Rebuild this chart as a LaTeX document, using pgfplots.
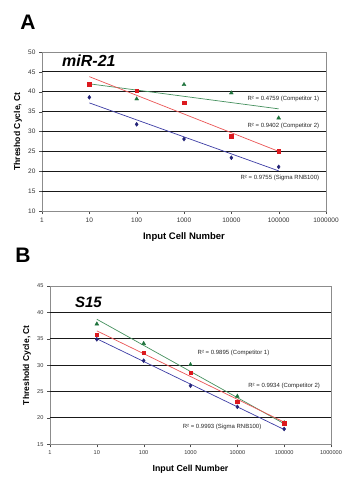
\documentclass[border=0pt]{standalone}
\usepackage{fontspec}
\setmainfont{Liberation Sans}
\usepackage{pgfplots}
\pgfplotsset{compat=1.18}
\definecolor{cblue}{RGB}{35,35,120}
\definecolor{lblue}{RGB}{60,60,165}
\definecolor{cred}{RGB}{220,25,30}
\definecolor{lred}{RGB}{235,85,85}
\definecolor{cgreen}{RGB}{30,115,60}
\definecolor{lgreen}{RGB}{70,145,95}
\begin{document}
\begin{tikzpicture}
\path[use as bounding box, fill=white] (0pt,0pt) rectangle (351pt,-480pt);
\node[font=\fontsize{21}{24}\selectfont\bfseries] at (28pt,-22pt) {A};
\node[font=\fontsize{21}{24}\selectfont\bfseries] at (23pt,-255pt) {B};
% ---------- Panel A
\begin{semilogxaxis}[
  scale only axis,
  xmin=1, xmax=1000000,
  xtick={1,10,100,1000,10000,100000,1000000},
  xticklabels={1,10,100,1000,10000,100000,1000000},
  xminorticks=false,
  axis line style={black!45},
  tick align=outside,
  xtick pos=left, ytick pos=left,
  major tick length=3pt,
  tick style={black!70},
  /pgf/number format/assume math mode=true,
  major grid style={black!90, line width=0.9pt},
  clip=false,
  at={(42pt,-211pt)}, anchor=south west,
  width=284pt, height=159pt,
  ymin=10, ymax=50, ytick={10,15,...,50},
  extra y ticks={15,20,...,45}, extra y tick labels={},
  extra y tick style={grid=major, major tick length=0pt},
  ticklabel style={font=\fontsize{6.5}{7}\selectfont, text=black!80},
  xlabel={\textbf{Input Cell Number}},
  ylabel={\textbf{Threshod Cycle, Ct}},
  xlabel style={font=\fontsize{9.5}{10}\selectfont, at={(axis description cs:0.5,-0.164)}, anchor=center},
  ylabel style={font=\fontsize{8.6}{9}\selectfont, at={(axis description cs:-0.0845,0.5)}, anchor=center, rotate=0},
]
\addplot[lgreen, line width=0.7pt] coordinates {(10,42.0) (100000,35.7)};
\addplot[lred, line width=0.7pt] coordinates {(10,43.8) (100000,25.0)};
\addplot[lblue, line width=0.7pt] coordinates {(10,37.2) (100000,20.1)};
\addplot[only marks, mark=triangle*, mark size=2.2pt, cgreen] coordinates {(10,41.6) (100,38.2) (1000,41.8) (10000,39.7) (100000,33.4)};
\addplot[only marks, mark=square*, mark size=1.7pt, cred] coordinates {(10,41.9) (100,40.2) (1000,37.25) (10000,28.8) (100000,25.0)};
\addplot[only marks, mark=diamond*, mark size=2pt, cblue] coordinates {(10,38.6) (100,31.8) (1000,28.1) (10000,23.4) (100000,21.1)};
\node[anchor=base west, inner sep=0pt, font=\fontsize{16}{18}\selectfont\bfseries\itshape] at (axis cs:2.65,46.4) {miR-21};
\node[anchor=east, font=\fontsize{6}{7}\selectfont, text=black!85] at (axis cs:851000,38.3) {R² = 0.4759 (Competitor 1)};
\node[anchor=east, font=\fontsize{6}{7}\selectfont, text=black!85] at (axis cs:851000,31.3) {R² = 0.9402 (Competitor 2)};
\node[anchor=east, font=\fontsize{6}{7}\selectfont, text=black!85] at (axis cs:851000,18.3) {R² = 0.9755 (Sigma RNB100)};
\end{semilogxaxis}
% ---------- Panel B
\begin{semilogxaxis}[
  scale only axis,
  xmin=1, xmax=1000000,
  xtick={1,10,100,1000,10000,100000,1000000},
  xticklabels={1,10,100,1000,10000,100000,1000000},
  xminorticks=false,
  axis line style={black!45},
  tick align=outside,
  xtick pos=left, ytick pos=left,
  major tick length=3pt,
  tick style={black!70},
  /pgf/number format/assume math mode=true,
  major grid style={black!90, line width=0.9pt},
  clip=false,
  at={(50pt,-444.3pt)}, anchor=south west,
  width=281pt, height=158.3pt,
  ymin=15, ymax=45, ytick={15,20,...,45},
  extra y ticks={20,25,...,40}, extra y tick labels={},
  extra y tick style={grid=major, major tick length=0pt},
  ticklabel style={font=\fontsize{5.6}{6}\selectfont, text=black!80},
  xlabel={\textbf{Input Cell Number}},
  ylabel={\textbf{Threshold Cycle, Ct}},
  xlabel style={font=\fontsize{8.8}{9}\selectfont, at={(axis description cs:0.5,-0.156)}, anchor=center},
  ylabel style={font=\fontsize{8.5}{9}\selectfont, at={(axis description cs:-0.082,0.5)}, anchor=center, rotate=0},
]
\addplot[lgreen, line width=0.7pt] coordinates {(10,38.7) (100000,18.9)};
\addplot[lred, line width=0.7pt] coordinates {(10,36.5) (100000,19.2)};
\addplot[lblue, line width=0.7pt] coordinates {(10,35.0) (100000,17.8)};
\addplot[only marks, mark=triangle*, mark size=2.2pt, cgreen] coordinates {(10,37.8) (100,34.1) (1000,30.1) (10000,24.1) (100000,19.1)};
\addplot[only marks, mark=square*, mark size=1.7pt, cred] coordinates {(10,35.8) (100,32.4) (1000,28.6) (10000,23.1) (100000,19.0)};
\addplot[only marks, mark=diamond*, mark size=2pt, cblue] coordinates {(10,34.9) (100,30.85) (1000,26.1) (10000,22.1) (100000,17.9)};
\node[anchor=base west, inner sep=0pt, font=\fontsize{15}{17}\selectfont\bfseries\itshape] at (axis cs:3.4,41.0) {S15};
\node[anchor=west, font=\fontsize{6}{7}\selectfont, text=black!85] at (axis cs:1200,32.4) {R² = 0.9895 (Competitor 1)};
\node[anchor=east, font=\fontsize{6}{7}\selectfont, text=black!85] at (axis cs:690000,26.05) {R² = 0.9934 (Competitor 2)};
\node[anchor=west, font=\fontsize{6}{7}\selectfont, text=black!85] at (axis cs:575,18.3) {R² = 0.9993 (Sigma RNB100)};
\end{semilogxaxis}
\end{tikzpicture}
\end{document}
